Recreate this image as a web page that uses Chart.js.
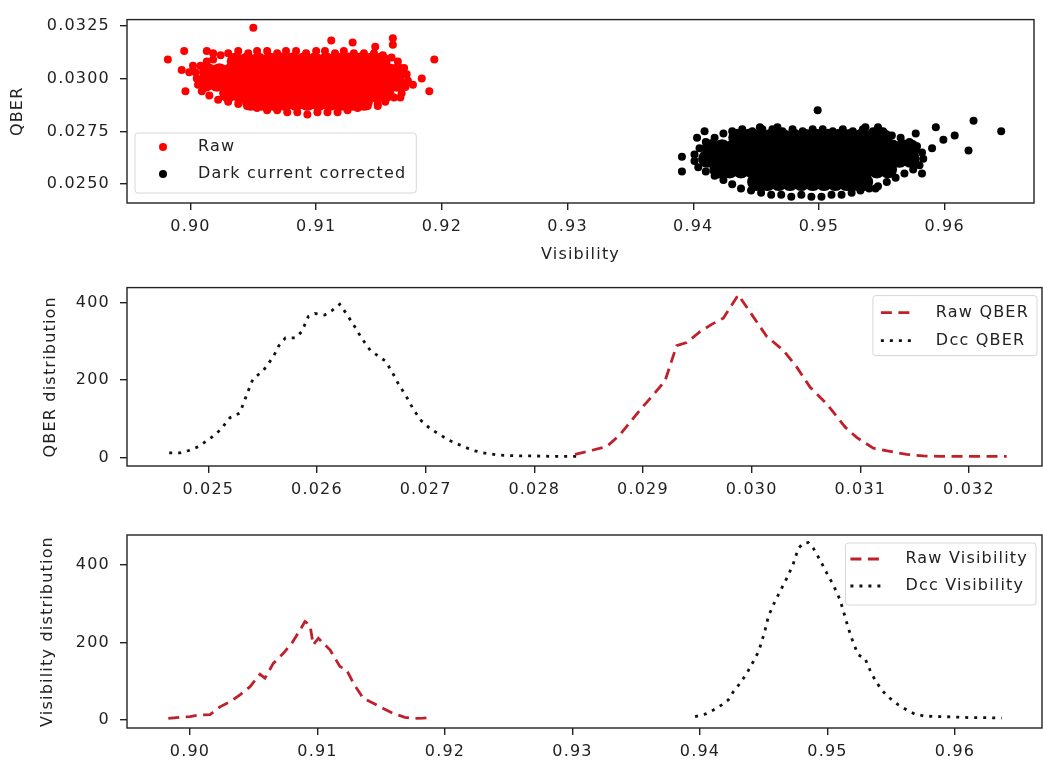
<!DOCTYPE html>
<html>
<head>
<meta charset="utf-8">
<script src="https://cdn.jsdelivr.net/npm/chart.js@4/dist/chart.umd.min.js"></script>
<style>
  html, body { margin: 0; padding: 0; background: #fff; }
  #wrap { position: relative; width: 1043px; height: 765px; overflow: hidden; }
  canvas { position: absolute; left: 0; }
</style>
</head>
<body>
<div id="wrap">
  <canvas id="scatterChart" width="1043" height="268" style="top:0"></canvas>
  <canvas id="qberChart" width="1043" height="234" style="top:268px"></canvas>
  <canvas id="visChart" width="1043" height="263" style="top:502px"></canvas>
</div>
<script>
// ---- tick labels ----
const visTicks = [0.90, 0.91, 0.92, 0.93, 0.94, 0.95, 0.96];
const qberScatterTicks = [0.025, 0.0275, 0.030, 0.0325];
const qberTicks = [0.025, 0.026, 0.027, 0.028, 0.029, 0.030, 0.031, 0.032];
const countTicks = [0, 200, 400];

// ---- scatter: QBER vs visibility, rows of [qber, [visibility...]] ----
// dense middle of the raw cloud
const rawCoreRows = [
  [0.0308, [0.9036, 0.9045, 0.9054, 0.9063, 0.9072, 0.9081, 0.9090, 0.9099, 0.9108, 0.9117, 0.9126, 0.9135, 0.9144, 0.9152]],
  [0.0303, [0.9014, 0.9023, 0.9032, 0.9041, 0.9050, 0.9059, 0.9068, 0.9077, 0.9086, 0.9095, 0.9104, 0.9113, 0.9122, 0.9131, 0.9140, 0.9149, 0.9158, 0.9165]],
  [0.0298, [0.9012, 0.9021, 0.9030, 0.9039, 0.9048, 0.9057, 0.9066, 0.9075, 0.9084, 0.9093, 0.9102, 0.9111, 0.9120, 0.9129, 0.9138, 0.9147, 0.9156, 0.9164]],
  [0.0293, [0.9030, 0.9039, 0.9048, 0.9057, 0.9066, 0.9075, 0.9084, 0.9093, 0.9102, 0.9111, 0.9120, 0.9129, 0.9138, 0.9147, 0.9155]],
  [0.0289, [0.9048, 0.9057, 0.9066, 0.9075, 0.9084, 0.9093, 0.9102, 0.9111, 0.9120, 0.9129, 0.9138]]
];
// edge of the raw cloud and its stray points, [visibility, qber]
const rawEdge = [
  [0.9018, 0.0309], [0.9024, 0.0311], [0.9030, 0.0312], [0.9038, 0.0313], [0.9046, 0.0312], [0.9053, 0.0313],
  [0.9061, 0.0313], [0.9069, 0.0312], [0.9076, 0.0313], [0.9084, 0.0313], [0.9092, 0.0312], [0.9100, 0.0313],
  [0.9107, 0.0313], [0.9115, 0.0312], [0.9122, 0.0313], [0.9130, 0.0312], [0.9138, 0.0312], [0.9146, 0.0312],
  [0.9153, 0.0311], [0.9160, 0.0310], [0.9165, 0.0308], [0.9170, 0.0305],
  [0.9004, 0.0303], [0.9005, 0.0300], [0.9006, 0.0297], [0.9009, 0.0294], [0.9008, 0.0306], [0.9013, 0.0308],
  [0.9172, 0.0302], [0.9173, 0.0299], [0.9171, 0.0296], [0.9168, 0.0293], [0.9162, 0.0291],
  [0.9015, 0.0292], [0.9022, 0.0290], [0.9030, 0.0289], [0.9038, 0.0288], [0.9045, 0.0287], [0.9053, 0.0286],
  [0.9061, 0.0285], [0.9069, 0.0285], [0.9077, 0.0284], [0.9085, 0.0284], [0.9093, 0.0283], [0.9101, 0.0284],
  [0.9109, 0.0284], [0.9117, 0.0284], [0.9125, 0.0285], [0.9133, 0.0286], [0.9141, 0.0287], [0.9149, 0.0288],
  [0.9155, 0.0289],
  [0.8982, 0.0309], [0.8993, 0.0304], [0.8995, 0.0313], [0.8996, 0.0294], [0.9013, 0.0313], [0.9018, 0.0312],
  [0.9050, 0.0324], [0.9112, 0.0318], [0.9129, 0.0317], [0.9147, 0.0315], [0.9161, 0.0319], [0.9161, 0.0316],
  [0.9167, 0.0291], [0.9177, 0.0297], [0.9184, 0.0300], [0.9190, 0.0294], [0.9194, 0.0309], [0.9149, 0.0287],
  [0.9002, 0.0306], [0.8999, 0.0303]
];

const dccCoreRows = [
  [0.0272, [0.9435, 0.9444, 0.9453, 0.9462, 0.9471, 0.9480, 0.9489, 0.9498, 0.9507, 0.9516, 0.9525, 0.9534, 0.9543, 0.9551]],
  [0.0267, [0.9414, 0.9423, 0.9432, 0.9441, 0.9450, 0.9459, 0.9468, 0.9477, 0.9486, 0.9495, 0.9504, 0.9513, 0.9522, 0.9531, 0.9540, 0.9549, 0.9558, 0.9567, 0.9573]],
  [0.0262, [0.9411, 0.9420, 0.9429, 0.9438, 0.9447, 0.9456, 0.9465, 0.9474, 0.9483, 0.9492, 0.9501, 0.9510, 0.9519, 0.9528, 0.9537, 0.9546, 0.9555, 0.9564, 0.9573]],
  [0.0257, [0.9420, 0.9429, 0.9438, 0.9447, 0.9456, 0.9465, 0.9474, 0.9483, 0.9492, 0.9501, 0.9510, 0.9519, 0.9528, 0.9537, 0.9546, 0.9555]],
  [0.0251, [0.9450, 0.9459, 0.9468, 0.9477, 0.9486, 0.9495, 0.9504, 0.9513, 0.9522, 0.9531, 0.9536]]
];
const dccEdge = [
  [0.9405, 0.0267], [0.9410, 0.0270], [0.9417, 0.0272], [0.9424, 0.0274], [0.9431, 0.0275], [0.9439, 0.0276],
  [0.9447, 0.0275], [0.9455, 0.0276], [0.9463, 0.0276], [0.9471, 0.0275], [0.9479, 0.0276], [0.9487, 0.0275],
  [0.9495, 0.0276], [0.9503, 0.0276], [0.9511, 0.0275], [0.9519, 0.0276], [0.9527, 0.0275], [0.9535, 0.0276],
  [0.9543, 0.0275], [0.9551, 0.0275], [0.9558, 0.0273], [0.9565, 0.0272], [0.9572, 0.0270], [0.9578, 0.0268],
  [0.9582, 0.0265], [0.9583, 0.0262], [0.9580, 0.0259], [0.9575, 0.0257], [0.9568, 0.0255], [0.9561, 0.0253],
  [0.9554, 0.0251], [0.9547, 0.0249], [0.9540, 0.0248], [0.9533, 0.0247], [0.9526, 0.0246], [0.9518, 0.0245],
  [0.9510, 0.0245], [0.9502, 0.0244], [0.9494, 0.0244], [0.9486, 0.0245], [0.9478, 0.0244], [0.9470, 0.0245],
  [0.9462, 0.0245], [0.9454, 0.0246], [0.9446, 0.0247], [0.9438, 0.0248], [0.9431, 0.0250], [0.9424, 0.0252],
  [0.9417, 0.0254], [0.9410, 0.0256], [0.9404, 0.0258], [0.9401, 0.0261], [0.9401, 0.0264],
  [0.9391, 0.0263], [0.9391, 0.0256], [0.9403, 0.0272], [0.9409, 0.0275], [0.9499, 0.0285], [0.9545, 0.0248],
  [0.9582, 0.0255], [0.9593, 0.0277], [0.9599, 0.0271], [0.9608, 0.0273], [0.9619, 0.0266], [0.9623, 0.0280],
  [0.9645, 0.0275], [0.9577, 0.0274], [0.9590, 0.0267], [0.9453, 0.0277], [0.9467, 0.0277], [0.9537, 0.0277],
  [0.9547, 0.0277]
];

// ---- QBER histograms ----
const qberRawX = [0.028374, 0.028666, 0.028789, 0.028973, 0.029095, 0.029203, 0.029310, 0.029402, 0.029525, 0.029632,
  0.029739, 0.029877, 0.029985, 0.030138, 0.030291, 0.030414, 0.030537, 0.030690, 0.030859, 0.030966,
  0.031120, 0.031273, 0.031427, 0.031580, 0.031733, 0.031887, 0.032040, 0.032347];
const qberRawY = [8, 28, 59, 123, 162, 198, 289, 297, 325, 344, 360, 420, 376, 313, 277, 234, 182, 139, 79, 52,
  24, 16, 8, 4, 3, 3, 3, 3];
const qberDccX = [0.02464, 0.02474, 0.02482, 0.02491, 0.02503, 0.02511, 0.02520, 0.02529, 0.02537, 0.02541,
  0.02551, 0.02560, 0.02565, 0.02571, 0.02580, 0.02586, 0.02592, 0.02598, 0.02607, 0.02614,
  0.02621, 0.02627, 0.02635, 0.02641, 0.02649, 0.02655, 0.02663, 0.02669, 0.02675, 0.02683,
  0.02689, 0.02696, 0.02704, 0.02713, 0.02722, 0.02735, 0.02744, 0.02753, 0.02768, 0.02787,
  0.02800, 0.02815, 0.02830, 0.02840];
const qberDccY = [12, 12, 18, 28, 52, 71, 103, 115, 174, 202, 226, 261, 289, 309, 309, 325, 364, 372, 368, 380,
  396, 372, 337, 309, 277, 265, 249, 222, 190, 154, 123, 95, 75, 59, 44, 28, 18, 12, 6, 4, 4, 3, 3, 3];

// ---- visibility histograms ----
const visRawX = [0.89830, 0.89922, 0.90000, 0.90078, 0.90157, 0.90235, 0.90314, 0.90392, 0.90471, 0.90549,
  0.90588, 0.90653, 0.90732, 0.90798, 0.90863, 0.90902, 0.90941, 0.90967, 0.91007, 0.91098,
  0.91176, 0.91229, 0.91281, 0.91359, 0.91438, 0.91516, 0.91595, 0.91686, 0.91751, 0.91830, 0.91895];
const visRawY = [4, 7, 9, 13, 14, 34, 47, 65, 86, 118, 108, 146, 172, 198, 232, 254, 245, 194, 211, 181,
  138, 129, 95, 56, 43, 30, 17, 7, 4, 5, 7];
const visDccX = [0.93961, 0.94039, 0.94105, 0.94170, 0.94222, 0.94261, 0.94314, 0.94366, 0.94418, 0.94458,
  0.94484, 0.94510, 0.94536, 0.94575, 0.94614, 0.94653, 0.94693, 0.94732, 0.94771, 0.94810,
  0.94849, 0.94889, 0.94941, 0.94994, 0.95046, 0.95098, 0.95137, 0.95163, 0.95203, 0.95242,
  0.95294, 0.95333, 0.95373, 0.95425, 0.95490, 0.95556, 0.95621, 0.95686, 0.95765, 0.95882,
  0.95987, 0.96118, 0.96248, 0.96366];
const visDccY = [9, 15, 26, 39, 52, 73, 95, 120, 151, 176, 202, 232, 267, 297, 323, 348, 374, 404, 443, 456,
  458, 443, 413, 379, 348, 310, 267, 237, 198, 168, 159, 129, 103, 77, 56, 39, 26, 15, 10, 9, 8, 6, 6, 5];

// ---- helpers ----
const rowsToPoints = (rows) => rows.flatMap(([q, vs]) => vs.map((v) => ({ x: v, y: q })));
const pairsToPoints = (pairs) => pairs.map(([x, y]) => ({ x, y }));
const zip = (xs, ys) => xs.map((x, i) => ({ x, y: ys[i] }));

const FONT = "DejaVu Sans";
const FONT_SIZE = 16;
const SPACING = "1.2px";
const INK = "#222";
const RED_LINE = "#c0202a";
const DASHED = [11, 6.5];
const DOTTED = [3, 6];

Chart.defaults.font.family = FONT;
Chart.defaults.font.size = FONT_SIZE;
Chart.defaults.color = INK;
Chart.defaults.animation = false;

// the text in this figure runs a little wide
const wideText = {
  id: "wideText",
  beforeLayout(chart) { chart.ctx.letterSpacing = SPACING; },
  beforeDraw(chart) { chart.ctx.letterSpacing = SPACING; }
};

// full box around the plot area
const frame = {
  id: "frame",
  afterDatasetsDraw(chart) {
    const { ctx, chartArea: a } = chart;
    ctx.save();
    ctx.strokeStyle = INK;
    ctx.lineWidth = 1.4;
    ctx.strokeRect(a.left, a.top, a.right - a.left, a.bottom - a.top);
    ctx.restore();
  }
};

// legend drawn inside the axes with a light rounded frame
const boxLegend = {
  id: "boxLegend",
  afterDraw(chart, args, o) {
    const { ctx, chartArea: a } = chart;
    const items = chart.data.datasets.filter((d) => d.inLegend);
    ctx.save();
    ctx.font = `${FONT_SIZE}px "${FONT}"`;
    ctx.letterSpacing = SPACING;
    const textW = Math.max(...items.map((d) => ctx.measureText(d.label).width));
    const w = o.textOffset + textW + o.padRight;
    const h = o.height;
    const x = o.side === "right" ? a.right - o.dx - w : a.left + o.dx;
    const y = o.edge === "bottom" ? a.bottom - o.dy - h : a.top + o.dy;
    ctx.beginPath();
    ctx.roundRect(x, y, w, h, 3);
    ctx.fillStyle = "rgba(255,255,255,0.85)";
    ctx.fill();
    ctx.strokeStyle = "#d6d6d6";
    ctx.lineWidth = 1;
    ctx.stroke();
    items.forEach((d, i) => {
      const cy = y + o.firstRow + i * o.rowGap;
      if (o.marker) {
        ctx.beginPath();
        ctx.arc(x + o.marker, cy, 4, 0, Math.PI * 2);
        ctx.fillStyle = d.backgroundColor;
        ctx.fill();
      } else {
        ctx.beginPath();
        ctx.setLineDash(d.borderDash);
        ctx.lineCap = "butt";
        ctx.strokeStyle = d.borderColor;
        ctx.lineWidth = d.borderWidth;
        ctx.moveTo(x + o.lineStart, cy);
        ctx.lineTo(x + o.lineEnd, cy);
        ctx.stroke();
        ctx.setLineDash([]);
      }
      ctx.fillStyle = INK;
      ctx.textBaseline = "middle";
      ctx.textAlign = "left";
      ctx.fillText(d.label, x + o.textOffset, cy);
    });
    ctx.restore();
  }
};

Chart.register(wideText, frame);

function axis(opts) {
  const { min, max, ticks, digits, title, titlePad, size, horizontal } = opts;
  return {
    type: "linear",
    min,
    max,
    afterBuildTicks: (s) => { s.ticks = ticks.map((v) => ({ value: v })); },
    afterFit: (s) => { if (horizontal) s.height = size; else s.width = size; },
    ticks: {
      color: INK,
      padding: horizontal ? 7 : 10,
      maxRotation: 0,
      autoSkip: false,
      callback: (v) => (digits === 0 ? String(Math.round(v)) : Number(v).toFixed(digits))
    },
    grid: { drawOnChartArea: false, drawTicks: true, tickLength: 7, color: INK, lineWidth: 1.4 },
    border: { display: false },
    title: title
      ? { display: true, text: title, color: INK, padding: horizontal ? { top: 0, bottom: titlePad } : { top: titlePad, bottom: 0 } }
      : { display: false }
  };
}

// ---- panel 1: QBER against visibility ----
new Chart(document.getElementById("scatterChart"), {
  type: "scatter",
  plugins: [boxLegend],
  data: {
    datasets: [
      { label: "Raw", inLegend: true, data: pairsToPoints(rawEdge), backgroundColor: "#ff0000", pointRadius: 4, pointHoverRadius: 4, borderWidth: 0 },
      { label: "Raw", data: rowsToPoints(rawCoreRows), backgroundColor: "#ff0000", pointRadius: 9, pointHoverRadius: 9, borderWidth: 0 },
      { label: "Dark current corrected", inLegend: true, data: pairsToPoints(dccEdge), backgroundColor: "#000000", pointRadius: 4, pointHoverRadius: 4, borderWidth: 0 },
      { label: "Dark current corrected", data: rowsToPoints(dccCoreRows), backgroundColor: "#000000", pointRadius: 9, pointHoverRadius: 9, borderWidth: 0 }
    ]
  },
  options: {
    responsive: false,
    layout: { padding: { top: 10, right: 1, left: 0, bottom: 0 } },
    scales: {
      x: axis({ min: 0.89495, max: 0.96711, ticks: visTicks, digits: 2, title: "Visibility", titlePad: 4, size: 65, horizontal: true }),
      y: axis({ min: 0.02411, max: 0.032788, ticks: qberScatterTicks, digits: 4, title: "QBER", titlePad: 8, size: 127 })
    },
    plugins: {
      legend: { display: false },
      tooltip: { enabled: false },
      boxLegend: { side: "left", edge: "bottom", dx: 8, dy: 10, height: 60, firstRow: 14, rowGap: 27, marker: 28, textOffset: 63, padRight: 10 }
    }
  }
});

// ---- panel 2: QBER distributions ----
new Chart(document.getElementById("qberChart"), {
  type: "line",
  plugins: [boxLegend],
  data: {
    datasets: [
      { label: "Raw QBER", inLegend: true, data: zip(qberRawX, qberRawY), borderColor: RED_LINE, borderWidth: 2.8, borderDash: DASHED, pointRadius: 0, fill: false },
      { label: "Dcc QBER", inLegend: true, data: zip(qberDccX, qberDccY), borderColor: "#111", borderWidth: 2.8, borderDash: DOTTED, pointRadius: 0, fill: false }
    ]
  },
  options: {
    responsive: false,
    layout: { padding: { top: 4, right: 1, left: 0, bottom: 0 } },
    scales: {
      x: axis({ min: 0.024252, max: 0.032672, ticks: qberTicks, digits: 3, size: 36, horizontal: true }),
      y: axis({ min: -22, max: 439, ticks: countTicks, digits: 0, title: "QBER distribution", titlePad: 41, size: 127 })
    },
    plugins: {
      legend: { display: false },
      tooltip: { enabled: false },
      boxLegend: { side: "right", edge: "top", dx: 5, dy: 8, height: 60, firstRow: 17, rowGap: 28, lineStart: 8, lineEnd: 39, textOffset: 63, padRight: 8 }
    }
  }
});

// ---- panel 3: visibility distributions ----
new Chart(document.getElementById("visChart"), {
  type: "line",
  plugins: [boxLegend],
  data: {
    datasets: [
      { label: "Raw Visibility", inLegend: true, data: zip(visRawX, visRawY), borderColor: RED_LINE, borderWidth: 2.8, borderDash: DASHED, pointRadius: 0, fill: false },
      { label: "Dcc Visibility", inLegend: true, data: zip(visDccX, visDccY), borderColor: "#111", borderWidth: 2.8, borderDash: DOTTED, pointRadius: 0, fill: false }
    ]
  },
  options: {
    responsive: false,
    layout: { padding: { top: 33, right: 1, left: 0, bottom: 0 } },
    scales: {
      x: axis({ min: 0.89506, max: 0.96682, ticks: visTicks, digits: 2, size: 37, horizontal: true }),
      y: axis({ min: -20.6, max: 477.4, ticks: countTicks, digits: 0, title: "Visibility distribution", titlePad: 38, size: 127 })
    },
    plugins: {
      legend: { display: false },
      tooltip: { enabled: false },
      boxLegend: { side: "right", edge: "top", dx: 6, dy: 8, height: 62, firstRow: 16, rowGap: 27, lineStart: 5, lineEnd: 38, textOffset: 60, padRight: 8 }
    }
  }
});
</script>
</body>
</html>
